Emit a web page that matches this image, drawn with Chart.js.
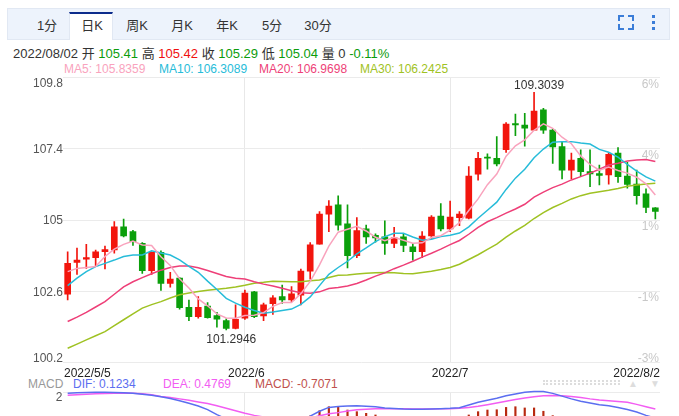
<!DOCTYPE html>
<html>
<head>
<meta charset="utf-8">
<script src="https://cdn.jsdelivr.net/npm/chart.js@4.4.0/dist/chart.umd.min.js"></script>
<style>
body{margin:0;width:679px;height:416px;overflow:hidden;background:#fff;position:relative;font-family:"Liberation Sans",Arial,"Noto Sans CJK SC",sans-serif;}
.toolbar{position:absolute;left:7px;top:8px;width:661px;height:30px;background:#edf3fc;border:1px solid #e1e8f3;}
.sel{position:absolute;left:69px;top:12px;width:44px;height:28px;background:#fff;border-top:2px solid #0c2c8c;border-left:1px solid #e1e8f3;border-right:1px solid #e1e8f3;box-sizing:border-box;}
.tab{position:absolute;top:18px;font-size:13px;line-height:15px;color:#333;transform:translateX(-50%);white-space:nowrap;}
.corner{position:absolute;width:4px;height:4px;border-color:#3b7dd8;border-style:solid;border-width:0;}
.dot{position:absolute;left:652px;width:3px;height:3px;background:#3b7dd8;}
.txt{position:absolute;white-space:nowrap;}
canvas{position:absolute;left:0;}
</style>
</head>
<body>
<div class="toolbar"></div>
<div class="sel"></div>
<span class="tab" style="left:47px">1分</span>
<span class="tab" style="left:92px">日K</span>
<span class="tab" style="left:137px">周K</span>
<span class="tab" style="left:182px">月K</span>
<span class="tab" style="left:227px">年K</span>
<span class="tab" style="left:272px">5分</span>
<span class="tab" style="left:318px">30分</span>
<div class="corner" style="left:618px;top:15px;border-top-width:2px;border-left-width:2px"></div>
<div class="corner" style="left:628px;top:15px;border-top-width:2px;border-right-width:2px"></div>
<div class="corner" style="left:618px;top:24px;border-bottom-width:2px;border-left-width:2px"></div>
<div class="corner" style="left:628px;top:24px;border-bottom-width:2px;border-right-width:2px"></div>
<div class="dot" style="top:15px"></div>
<div class="dot" style="top:21px"></div>
<div class="dot" style="top:27px"></div>

<div class="txt" style="left:13px;top:46px;font-size:13px;line-height:15px;color:#333">2022/08/02 开 <span style="color:#0c9c0c">105.41</span> 高 <span style="color:#f01010">105.42</span> 收 <span style="color:#0c9c0c">105.29</span> 低 <span style="color:#0c9c0c">105.04</span> 量 0 <span style="color:#0c9c0c">-0.11%</span></div>
<div class="txt" style="left:64px;top:62px;font-size:12px;line-height:14px;color:#f9a3bd">MA5: 105.8359</div>
<div class="txt" style="left:159px;top:62px;font-size:12px;line-height:14px;color:#27bcd9">MA10: 106.3089</div>
<div class="txt" style="left:259px;top:62px;font-size:12px;line-height:14px;color:#ee3f78">MA20: 106.9698</div>
<div class="txt" style="left:360px;top:62px;font-size:12px;line-height:14px;color:#9fc223">MA30: 106.2425</div>

<div class="txt" style="left:28px;top:377px;font-size:12px;line-height:14px;color:#999">MACD</div>
<div class="txt" style="left:73px;top:377px;font-size:12px;line-height:14px;color:#5b6ef0">DIF: 0.1234</div>
<div class="txt" style="left:163px;top:377px;font-size:12px;line-height:14px;color:#f25df2">DEA: 0.4769</div>
<div class="txt" style="left:255px;top:377px;font-size:12px;line-height:14px;color:#c0504d">MACD: -0.7071</div>
<div class="txt" style="left:543px;top:380px;width:77px;height:1px;border-top:2px dotted #ddd;border-bottom:2px dotted #ddd"></div>
<div class="txt" style="left:628px;top:377px;font-size:10px;line-height:14px;color:#ddd">▲</div>
<div class="txt" style="left:650px;top:377px;font-size:10px;line-height:14px;color:#ddd">▼</div>

<canvas id="main" width="679" height="380" style="top:0"></canvas>
<canvas id="macd" width="679" height="100" style="top:380px"></canvas>

<script>
var dates = ['2022/5/5','2022/5/6','2022/5/9','2022/5/10','2022/5/11','2022/5/12','2022/5/13','2022/5/16','2022/5/17','2022/5/18',
  '2022/5/19','2022/5/20','2022/5/23','2022/5/24','2022/5/25','2022/5/26','2022/5/27','2022/5/30','2022/5/31','2022/6/1',
  '2022/6/2','2022/6/3','2022/6/6','2022/6/7','2022/6/8','2022/6/9','2022/6/10','2022/6/13','2022/6/14','2022/6/15',
  '2022/6/16','2022/6/17','2022/6/20','2022/6/21','2022/6/22','2022/6/23','2022/6/24','2022/6/27','2022/6/28','2022/6/29',
  '2022/6/30','2022/7/1','2022/7/4','2022/7/5','2022/7/6','2022/7/7','2022/7/8','2022/7/11','2022/7/12','2022/7/13',
  '2022/7/14','2022/7/15','2022/7/18','2022/7/19','2022/7/20','2022/7/21','2022/7/22','2022/7/25','2022/7/26','2022/7/27',
  '2022/7/28','2022/7/29','2022/8/1','2022/8/2'];

var opens = [102.50,103.57,103.68,103.73,103.93,103.99,104.77,104.61,104.21,103.29,
  103.91,102.86,103.04,102.06,101.74,102.10,101.78,101.61,101.35,101.69,
  102.58,101.77,102.18,102.42,102.31,102.47,103.28,104.19,105.20,105.51,
  104.87,103.80,104.70,104.48,104.43,104.21,104.43,104.10,103.93,104.46,
  105.13,104.70,105.08,105.06,106.54,107.12,107.08,107.37,108.25,108.20,
  108.03,108.71,108.03,107.47,106.68,107.08,106.63,106.56,106.52,107.25,
  106.48,106.21,105.88,105.41];
var highs = [103.93,104.05,104.18,103.99,104.12,104.95,105.03,104.65,104.24,103.93,
  103.96,103.24,103.06,102.30,102.42,102.22,101.89,101.67,102.14,102.64,
  102.60,102.20,102.45,102.81,102.76,103.35,104.24,105.28,105.65,105.81,
  105.51,105.08,104.83,104.53,104.97,104.75,104.52,104.21,104.61,105.15,
  105.55,105.64,105.28,106.80,107.28,107.23,107.81,108.28,108.57,108.59,
  109.3039,108.76,108.05,107.64,107.25,107.36,107.36,106.85,107.28,107.44,
  106.94,106.68,106.05,105.42];
var lows = [102.31,103.17,103.37,103.46,103.35,103.88,104.43,104.14,103.20,103.17,
  102.63,102.74,102.00,101.61,101.69,101.69,101.39,101.2946,101.33,101.65,
  101.71,101.61,101.82,102.19,102.25,102.14,103.01,104.19,104.61,104.66,
  103.39,103.73,104.21,104.25,103.84,104.07,103.93,103.65,103.73,104.36,
  104.63,104.61,104.81,105.04,106.34,106.71,106.82,107.28,107.84,107.49,
  108.03,107.92,106.91,106.38,106.38,106.46,106.12,106.18,106.21,106.27,
  106.07,105.53,105.25,105.04];
var closes = [103.54,103.65,103.73,103.93,104.00,104.77,104.46,104.27,103.29,103.91,
  102.86,103.01,102.05,101.74,102.06,101.71,101.66,101.35,101.65,102.54,
  101.74,102.14,102.38,102.31,102.51,103.28,104.16,105.20,105.47,104.83,
  103.80,104.64,104.43,104.40,104.21,104.40,104.14,103.93,104.46,105.10,
  104.70,105.10,105.20,106.48,107.08,107.08,106.89,108.23,108.20,108.09,
  108.67,108.03,107.46,106.68,107.02,106.63,106.55,106.50,107.21,106.46,
  106.20,105.82,105.42,105.29];

var ma5 = [103.26,103.37,103.40,103.43,103.77,104.02,104.18,104.29,104.16,104.14,
  103.76,103.47,103.02,102.71,102.34,102.11,101.84,101.70,101.69,101.78,
  101.79,101.88,102.09,102.22,102.22,102.52,102.93,103.49,104.12,104.59,
  104.69,104.79,104.63,104.42,104.30,104.42,104.32,104.22,104.23,104.41,
  104.47,104.66,104.91,105.32,105.71,106.19,106.55,107.15,107.50,107.70,
  108.02,108.24,108.09,107.79,107.57,107.16,106.87,106.68,106.78,106.67,
  106.58,106.44,106.22,105.84];
var ma10 = [102.79,103.04,103.26,103.43,103.54,103.65,103.77,103.82,103.82,103.96,
  103.89,103.82,103.66,103.44,103.24,102.94,102.66,102.36,102.20,102.06,
  101.95,101.86,101.90,101.95,102.00,102.16,102.41,102.79,103.17,103.40,
  103.61,103.86,104.06,104.27,104.44,104.55,104.55,104.43,104.32,104.35,
  104.44,104.49,104.56,104.77,105.06,105.33,105.60,106.03,106.41,106.71,
  107.10,107.39,107.62,107.64,107.64,107.59,107.56,107.38,107.28,107.12,
  106.87,106.65,106.45,106.31];
var ma20 = [101.58,101.73,101.89,102.07,102.25,102.50,102.75,102.92,103.06,103.19,
  103.31,103.40,103.45,103.45,103.39,103.30,103.20,103.10,103.04,103.01,
  102.92,102.84,102.78,102.70,102.62,102.55,102.53,102.58,102.69,102.73,
  102.78,102.86,102.98,103.11,103.22,103.36,103.48,103.61,103.75,103.88,
  104.02,104.17,104.31,104.52,104.75,104.94,105.08,105.23,105.37,105.53,
  105.77,105.94,106.09,106.21,106.35,106.46,106.58,106.71,106.85,106.91,
  106.99,107.02,107.04,106.97];
var ma30 = [100.68,100.82,100.96,101.10,101.24,101.44,101.64,101.84,102.03,102.15,
  102.25,102.37,102.48,102.54,102.59,102.63,102.67,102.70,102.74,102.80,
  102.87,102.90,102.94,102.93,102.92,102.92,102.95,102.98,103.06,103.14,
  103.15,103.18,103.21,103.22,103.23,103.22,103.20,103.19,103.23,103.27,
  103.33,103.40,103.51,103.67,103.83,104.01,104.19,104.42,104.63,104.82,
  105.05,105.25,105.42,105.56,105.71,105.82,105.90,105.95,106.00,106.06,
  106.14,106.18,106.21,106.24];

var dif = [1.91,1.94,1.96,1.98,1.98,1.97,1.95,1.91,1.84,1.76,
  1.66,1.52,1.36,1.18,0.98,0.72,0.35,0.05,-0.15,-0.25,
  -0.35,-0.38,-0.38,-0.35,-0.28,-0.12,0.25,0.60,0.88,0.95,
  0.98,1.00,0.97,0.93,0.84,0.80,0.76,0.74,0.74,0.76,
  0.78,0.81,0.86,1.05,1.25,1.40,1.54,1.72,1.86,1.98,
  2.04,2.04,1.90,1.70,1.50,1.33,1.20,1.08,1.00,0.88,
  0.72,0.55,0.30,0.12];
var dea = [1.76,1.80,1.84,1.87,1.89,1.91,1.92,1.91,1.88,1.80,
  1.68,1.60,1.50,1.40,1.28,1.16,1.00,0.82,0.64,0.46,
  0.30,0.18,0.10,0.04,0.00,-0.02,0.10,0.28,0.42,0.50,
  0.62,0.71,0.75,0.78,0.78,0.78,0.78,0.77,0.77,0.77,
  0.78,0.79,0.81,0.88,0.96,1.08,1.20,1.32,1.45,1.57,
  1.66,1.72,1.74,1.73,1.68,1.60,1.50,1.42,1.36,1.31,
  1.25,1.10,0.93,0.76];
var macdBars = [0.22,0.20,0.18,0.16,0.14,0.10,0.06,0.00,-0.08,-0.12,
  -0.04,-0.16,-0.28,-0.44,-0.60,-0.88,-1.30,-1.54,-1.60,-1.42,
  -1.30,-1.12,-0.96,-0.78,-0.56,-0.20,0.26,0.64,0.93,0.93,
  0.69,0.57,0.45,0.33,0.12,0.04,-0.04,-0.06,-0.06,-0.02,
  0.00,0.04,0.10,0.33,0.57,0.69,0.71,0.88,0.93,0.84,
  0.84,0.60,0.28,-0.06,-0.36,-0.54,-0.60,-0.68,-0.72,-0.86,
  -1.06,-1.10,-1.26,-0.7071];

var yTicks = [100.2, 102.6, 105, 107.4, 109.8];
var pctLabels = ['-3%', '-1%', '1%', '4%', '6%'];
var macdTicks = [-2, 0, 2];
var xTickIdx = [0, 19, 41, 63];
var xTickText = ['2022/5/5', '2022/6', '2022/7', '2022/8/2'];
var highMark = 50, lowMark = 17;

var UP = '#f2150d', DOWN = '#0b9f0b';
var FONT = '12px "Liberation Sans", Arial, sans-serif';

function vGrid(ctx) {
  var i = ctx.index;
  return (i === 19 || i === 41) ? '#e8e8e8' : 'rgba(0,0,0,0)';
}

var candleColors = closes.map(function (c, i) { return c >= opens[i] ? UP : DOWN; });

var mainText = {
  id: 'mainText',
  afterDraw: function (chart) {
    var c = chart.ctx, y = chart.scales.y, x = chart.scales.x, a = chart.chartArea;
    c.save();
    c.font = FONT;
    for (var i = 0; i < yTicks.length; i++) {
      var py = y.getPixelForValue(yTicks[i]);
      var dy = 4.4;
      if (i === yTicks.length - 1) dy = 9.2;
      if (i === 0) dy = -0.5;
      c.textAlign = 'right';
      c.fillStyle = '#555';
      c.fillText(String(yTicks[i]), a.left, py + dy);
      c.fillStyle = '#c8c8c8';
      c.fillText(pctLabels[i], a.right - 1, py + (i === 0 ? -0.5 : 10));
    }
    c.fillStyle = '#222';
    var aligns = ['left', 'center', 'center', 'right'];
    for (var j = 0; j < xTickIdx.length; j++) {
      var px = x.getPixelForValue(xTickIdx[j]);
      if (j === 0) px = a.left + 1;
      if (j === xTickIdx.length - 1) px = a.right;
      if (j === 1) px += 1.5;
      c.textAlign = aligns[j];
      c.fillText(xTickText[j], px, a.bottom + 14.5);
    }
    c.fillStyle = '#333';
    c.textAlign = 'center';
    c.fillText(String(highs[highMark]), x.getPixelForValue(highMark) + 5, y.getPixelForValue(highs[highMark]) - 3);
    c.fillText(String(lows[lowMark]), x.getPixelForValue(lowMark) + 5, y.getPixelForValue(lows[lowMark]) + 12.7);
    c.restore();
  }
};

function maLine(data, color) {
  return { type: 'line', data: data, borderColor: color, borderWidth: 1.5, pointRadius: 0, tension: 0, fill: false, order: 0 };
}

new Chart(document.getElementById('main'), {
  type: 'bar',
  data: {
    labels: dates,
    datasets: [
      maLine(ma5, '#f9a3bd'),
      maLine(ma10, '#27bcd9'),
      maLine(ma20, '#ee3f78'),
      maLine(ma30, '#9fc223'),
      {
        data: opens.map(function (o, i) { return [o, closes[i]]; }),
        backgroundColor: candleColors, barThickness: 6, grouped: false, minBarLength: 1, order: 1
      },
      {
        data: lows.map(function (l, i) { return [l, highs[i]]; }),
        backgroundColor: candleColors, barThickness: 1, grouped: false, order: 2
      }
    ]
  },
  options: {
    responsive: false,
    animation: false,
    events: [],
    layout: { padding: { left: 63, right: 19, top: 77.5, bottom: 17.5 } },
    plugins: { legend: { display: false }, tooltip: { enabled: false } },
    scales: {
      x: {
        offset: true,
        grid: { offset: false, drawTicks: false, color: vGrid },
        border: { display: false },
        ticks: { display: false, autoSkip: false }
      },
      y: {
        min: 100.2, max: 109.8,
        afterBuildTicks: function (s) { s.ticks = yTicks.map(function (v) { return { value: v }; }); },
        grid: { drawTicks: false, color: '#ebebeb' },
        border: { display: false },
        ticks: { display: false }
      }
    }
  },
  plugins: [mainText]
});

var macdText = {
  id: 'macdText',
  afterDraw: function (chart) {
    var c = chart.ctx, y = chart.scales.y, a = chart.chartArea;
    c.save();
    c.font = FONT;
    c.fillStyle = '#555';
    c.textAlign = 'right';
    c.fillText('2', a.left - 0.5, y.getPixelForValue(2) + 8.5);
    c.restore();
  }
};

new Chart(document.getElementById('macd'), {
  type: 'bar',
  data: {
    labels: dates,
    datasets: [
      { type: 'line', data: dif, borderColor: '#5b6ef0', borderWidth: 1.5, pointRadius: 0, tension: 0, clip: false, order: 0 },
      { type: 'line', data: dea, borderColor: '#f25df2', borderWidth: 1.5, pointRadius: 0, tension: 0, clip: false, order: 0 },
      {
        data: macdBars,
        backgroundColor: macdBars.map(function (v) { return v >= 0 ? '#b8280f' : '#1a9a1a'; }),
        barThickness: 1.5, grouped: false, order: 1
      }
    ]
  },
  options: {
    responsive: false,
    animation: false,
    events: [],
    layout: { padding: { left: 63, right: 19, top: 12, bottom: 33 } },
    plugins: { legend: { display: false }, tooltip: { enabled: false } },
    scales: {
      x: {
        offset: true,
        grid: { offset: false, drawTicks: false, color: vGrid },
        border: { display: false },
        ticks: { display: false, autoSkip: false }
      },
      y: {
        min: -2, max: 2,
        afterBuildTicks: function (s) { s.ticks = macdTicks.map(function (v) { return { value: v }; }); },
        grid: { drawTicks: false, color: '#ebebeb' },
        border: { display: false },
        ticks: { display: false }
      }
    }
  },
  plugins: [macdText]
});
</script>
</body>
</html>
